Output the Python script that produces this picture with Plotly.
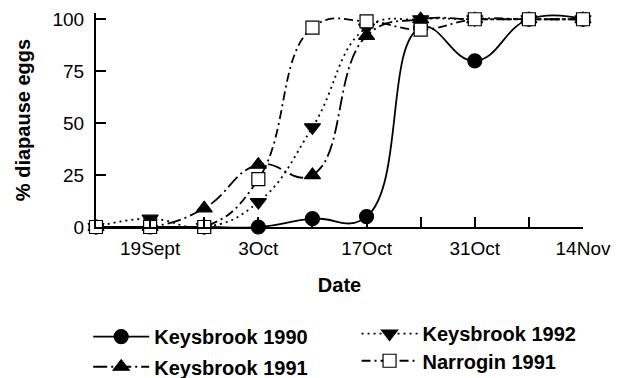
import plotly.graph_objects as go
import pandas as pd

# ---- data ----
dates = ["1991-09-12", "1991-09-19", "1991-09-26", "1991-10-03", "1991-10-10",
         "1991-10-17", "1991-10-24", "1991-10-31", "1991-11-07", "1991-11-14"]
keysbrook_1990 = [0, 0, 0, 0, 4, 5, 96, 80, 100, 100]
keysbrook_1991 = [0, 0, 9, 30, 25, 92, 100, 100, 100, 100]
keysbrook_1992 = [0, 4, 0, 12, 48, 96, 100, 100, 100, 100]
narrogin_1991 = [0, 0, 0, 23, 96, 99, 95, 100, 100, 100]

tick_dates = ["1991-09-12", "1991-09-19", "1991-09-26", "1991-10-03", "1991-10-10",
              "1991-10-17", "1991-10-24", "1991-10-31", "1991-11-07", "1991-11-14"]
tick_text = ["", "19Sept", "", "3Oct", "", "17Oct", "", "31Oct", "", "14Nov"]
y_ticks = [0, 25, 50, 75, 100]

x = pd.to_datetime(dates)
FONT = "Liberation Sans, Arial, sans-serif"

series = [
    ("Keysbrook 1990", keysbrook_1990, "circle", "black", "solid", "legend"),
    ("Keysbrook 1991", keysbrook_1991, "triangle-up", "black", "14px,4px,2px,4px", "legend2"),
    ("Keysbrook 1992", keysbrook_1992, "triangle-down", "black", "2px,4px", "legend3"),
    ("Narrogin 1991", narrogin_1991, "square", "white", "9px,4px,2px,4px", "legend4"),
]

fig = go.Figure()
for name, vals, sym, fill, dash, leg in series:
    fig.add_trace(go.Scatter(
        x=x, y=vals, name=name, mode="lines+markers",
        line=dict(color="black", width=1.8, dash=dash, shape="spline", smoothing=1.3),
        marker=dict(symbol=sym, size=14 if sym != "square" else 13, color=fill,
                    line=dict(color="black", width=1.2)),
        cliponaxis=False, legend=leg,
    ))

# page body adds an 8px offset, so the figure is sized to the visible area
fig.update_layout(
    width=614, height=370,
    margin=dict(l=88, r=39, t=5, b=151, autoexpand=False),
    plot_bgcolor="white", paper_bgcolor="white",
    font=dict(family=FONT, color="black", size=19),
    showlegend=True,
)

fig.update_xaxes(
    range=[pd.Timestamp("1991-09-12"), pd.Timestamp("1991-11-14")],
    tickmode="array", tickvals=pd.to_datetime(tick_dates), ticktext=tick_text,
    ticks="inside", ticklen=10, tickwidth=2, tickcolor="black",
    showline=True, linewidth=2, linecolor="black",
    showgrid=False, zeroline=False, automargin=False,
    tickfont=dict(size=19), ticklabelstandoff=3,
    title=dict(text="Date", font=dict(size=20, weight="bold"), standoff=20),
)
fig.update_yaxes(
    range=[0, 103], tickmode="array", tickvals=y_ticks,
    ticks="inside", ticklen=10, tickwidth=2, tickcolor="black",
    showline=True, linewidth=2, linecolor="black",
    showgrid=False, zeroline=False, automargin=False,
    tickfont=dict(size=19), ticklabelstandoff=6,
    title=dict(text="% diapause eggs", font=dict(size=20, weight="bold"), standoff=16),
)

leg_common = dict(bgcolor="rgba(0,0,0,0)", font=dict(size=20, family=FONT, weight="bold"),
                  itemwidth=56, xanchor="left", yanchor="middle")
fig.update_layout(
    legend=dict(x=-0.016, y=-0.512, **leg_common),
    legend2=dict(x=-0.016, y=-0.653, **leg_common),
    legend3=dict(x=0.535, y=-0.498, **leg_common),
    legend4=dict(x=0.535, y=-0.625, **leg_common),
)

fig.write_html("out.html")
